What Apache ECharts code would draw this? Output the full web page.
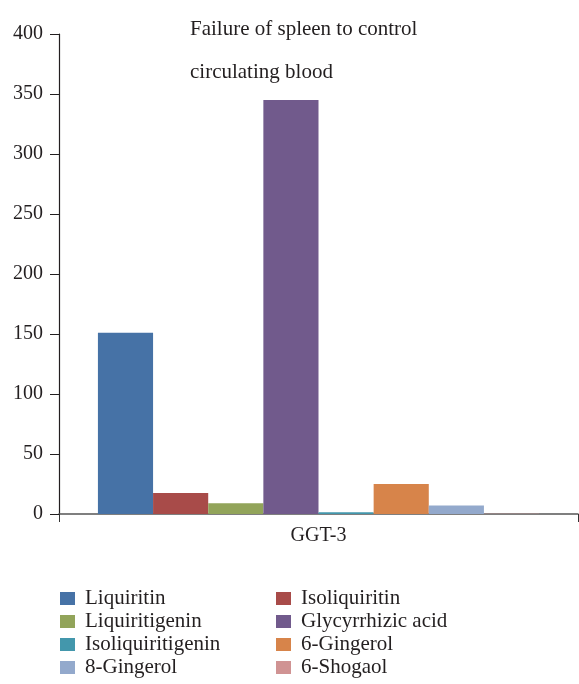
<!DOCTYPE html>
<html><head><meta charset="utf-8">
<script src="https://cdn.jsdelivr.net/npm/echarts@6/dist/echarts.min.js"></script>
<style>html,body{margin:0;padding:0;background:#fff}#c{width:579px;height:684px}</style>
</head><body><div id="c"></div>
<script>
const categories = ['GGT-3'];
const seriesNames = ['Liquiritin','Isoliquiritin','Liquiritigenin','Glycyrrhizic acid','Isoliquiritigenin','6-Gingerol','8-Gingerol','6-Shogaol'];
const seriesValues = [151, 17.5, 9, 345, 1.5, 25, 7, 0.3];
const colors = ['#4672A6','#A84B49','#92A45A','#715A8C','#4397AC','#D7844A','#93A9CC','#D09393'];
const yTicks = {min: 0, max: 400, interval: 50};
const titleLines = ['Failure of spleen to control', 'circulating blood'];

const font = 'Liberation Serif';
const fs = 20;
const chart = echarts.init(document.getElementById('c'));
const series = seriesNames.map((n, i) => ({
  name: n, type: 'bar', data: [seriesValues[i]],
  itemStyle: {color: colors[i]}, barGap: '0%', barCategoryGap: '15%'
}));
const legendText = {fontFamily: font, fontSize: 21, color: '#231f20', lineHeight: 20, padding: [0,0,0,5]};
chart.setOption({
  animation: false,
  textStyle: {fontFamily: font},
  title: {text: titleLines.join('\n'), left: 190, top: 8, padding: 0,
    textStyle: {fontFamily: font, fontSize: 21, fontWeight: 'normal', color: '#231f20', lineHeight: 43}},
  grid: {left: 59, right: 1, top: 34, bottom: 170, containLabel: false},
  legend: [
    {orient: 'vertical', left: 60, top: 588, padding: 0, itemWidth: 15, itemHeight: 13, itemGap: 2,
     height: 100, icon: 'rect', data: [seriesNames[0], seriesNames[2], seriesNames[4], seriesNames[6]],
     textStyle: legendText},
    {orient: 'vertical', left: 276, top: 588, padding: 0, itemWidth: 15, itemHeight: 13, itemGap: 2,
     height: 100, icon: 'rect', data: [seriesNames[1], seriesNames[3], seriesNames[5], seriesNames[7]],
     textStyle: legendText}
  ],
  xAxis: {type: 'category', data: categories,
    axisLine: {lineStyle: {color: '#555', width: 1.5}},
    axisTick: {show: true, length: 8, lineStyle: {color: '#333'}},
    axisLabel: {fontFamily: font, fontSize: fs, color: '#231f20', margin: 12}},
  yAxis: {type: 'value', min: yTicks.min, max: yTicks.max, interval: yTicks.interval,
    splitLine: {show: false},
    axisLine: {show: true, lineStyle: {color: '#231f20', width: 1.2}},
    axisTick: {show: true, length: 9, lineStyle: {color: '#231f20'}},
    axisLabel: {fontFamily: font, fontSize: fs, color: '#231f20', margin: 16}},
  series: series
});
</script></body></html>
